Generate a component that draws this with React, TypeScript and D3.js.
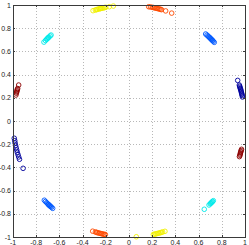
import { useEffect, useRef } from 'react';
import * as d3 from 'd3';

type Pt = [number, number];

// clusters of points (x, y)
const yellowTop: Pt[] = [
  [-0.31, 0.951], [-0.29, 0.957], [-0.28, 0.96], [-0.27, 0.963], [-0.26, 0.966], [-0.25, 0.968],
  [-0.245, 0.97], [-0.24, 0.971], [-0.23, 0.973], [-0.22, 0.975], [-0.21, 0.978], [-0.2, 0.98],
  [-0.17, 0.985], [-0.135, 0.991],
];
const orangeTop: Pt[] = [
  [0.17, 0.985], [0.185, 0.983], [0.2, 0.98], [0.21, 0.978], [0.22, 0.976], [0.23, 0.973],
  [0.24, 0.971], [0.25, 0.968], [0.26, 0.966], [0.27, 0.963], [0.28, 0.96], [0.316, 0.949], [0.368, 0.93],
];
const blueTop: Pt[] = [
  [0.661, 0.75], [0.672, 0.741], [0.68, 0.733], [0.688, 0.726], [0.695, 0.719], [0.7, 0.714],
  [0.705, 0.709], [0.71, 0.704], [0.715, 0.699], [0.72, 0.694], [0.727, 0.687], [0.735, 0.678],
];
const navyRight: Pt[] = [
  [0.937, 0.35], [0.951, 0.31], [0.954, 0.3], [0.957, 0.29], [0.96, 0.28], [0.963, 0.27],
  [0.966, 0.26], [0.968, 0.25], [0.971, 0.24], [0.973, 0.23], [0.976, 0.22], [0.978, 0.207],
];
const redRight: Pt[] = [
  [0.97, -0.244], [0.967, -0.255], [0.964, -0.265], [0.961, -0.275], [0.959, -0.285], [0.956, -0.295], [0.952, -0.307],
];
const cyanBottom: Pt[] = [
  [0.649, -0.761], [0.69, -0.724], [0.7, -0.714], [0.705, -0.709], [0.71, -0.704], [0.715, -0.699],
  [0.72, -0.694], [0.727, -0.687],
];
const yellowBottom: Pt[] = [
  [0.063, -0.998], [0.21, -0.978], [0.22, -0.976], [0.23, -0.973], [0.24, -0.971], [0.25, -0.968],
  [0.26, -0.966], [0.27, -0.963], [0.28, -0.96], [0.29, -0.957], [0.31, -0.951],
];
const orangeBottom: Pt[] = [
  [-0.313, -0.95], [-0.29, -0.957], [-0.28, -0.96], [-0.27, -0.963], [-0.26, -0.966], [-0.25, -0.968],
  [-0.24, -0.971], [-0.23, -0.973], [-0.22, -0.976], [-0.21, -0.978], [-0.204, -0.979],
];
const blueBottom: Pt[] = [
  [-0.73, -0.683], [-0.72, -0.694], [-0.71, -0.704], [-0.7, -0.714], [-0.695, -0.719], [-0.69, -0.724],
  [-0.685, -0.729], [-0.68, -0.733], [-0.675, -0.738], [-0.668, -0.744], [-0.658, -0.753],
];
const navyLeft: Pt[] = [
  [-0.989, -0.149], [-0.985, -0.17], [-0.982, -0.19], [-0.978, -0.21], [-0.973, -0.23], [-0.968, -0.25],
  [-0.963, -0.27], [-0.957, -0.29], [-0.951, -0.31], [-0.944, -0.33], [-0.913, -0.408],
];
const cyanTop: Pt[] = [
  [-0.733, 0.68], [-0.72, 0.694], [-0.71, 0.704], [-0.705, 0.709], [-0.7, 0.714], [-0.695, 0.719],
  [-0.69, 0.724], [-0.68, 0.733], [-0.672, 0.741],
];
const redLeft: Pt[] = [
  [-0.975, 0.224], [-0.971, 0.24], [-0.968, 0.25], [-0.966, 0.26], [-0.963, 0.27], [-0.96, 0.28], [-0.951, 0.31],
];

const clusters: { pts: Pt[]; color: string }[] = [
  { pts: yellowTop, color: '#f0f000' },
  { pts: orangeTop, color: '#ff4a00' },
  { pts: blueTop, color: '#0058ff' },
  { pts: navyRight, color: '#00009c' },
  { pts: redRight, color: '#8c0000' },
  { pts: cyanBottom, color: '#00eaea' },
  { pts: yellowBottom, color: '#f0f000' },
  { pts: orangeBottom, color: '#ff4a00' },
  { pts: blueBottom, color: '#0058ff' },
  { pts: navyLeft, color: '#00009c' },
  { pts: cyanTop, color: '#00eaea' },
  { pts: redLeft, color: '#8c0000' },
];

const ticks = [-1, -0.8, -0.6, -0.4, -0.2, 0, 0.2, 0.4, 0.6, 0.8, 1];

export default function App() {
  const ref = useRef<SVGSVGElement>(null);

  useEffect(() => {
    const svg = d3.select(ref.current);
    svg.selectAll('*').remove();

    const x = d3.scaleLinear().domain([-1, 1]).range([13, 245]);
    const y = d3.scaleLinear().domain([-1, 1]).range([237, 5]);
    const fmt = (d: number) => String(+d.toFixed(1));

    // grid
    const grid = svg.append('g').attr('stroke', '#b8b8b8').attr('stroke-width', 1).attr('stroke-dasharray', '1,2');
    grid.selectAll('.gx').data(ticks.slice(1, -1)).enter().append('line')
      .attr('x1', d => Math.round(x(d)) + 0.5).attr('x2', d => Math.round(x(d)) + 0.5)
      .attr('y1', y(1)).attr('y2', y(-1));
    grid.selectAll('.gy').data(ticks.slice(1, -1)).enter().append('line')
      .attr('y1', d => Math.round(y(d)) + 0.5).attr('y2', d => Math.round(y(d)) + 0.5)
      .attr('x1', x(-1)).attr('x2', x(1));

    // points
    clusters.forEach(c => {
      svg.append('g').selectAll('circle').data(c.pts).enter().append('circle')
        .attr('cx', d => x(d[0])).attr('cy', d => y(d[1]))
        .attr('r', 2.3).attr('fill', 'none').attr('stroke', c.color).attr('stroke-width', 0.9);
    });

    // box and ticks
    const ax = svg.append('g').attr('stroke', '#3a3a3a').attr('stroke-width', 1);
    ax.append('rect')
      .attr('x', x(-1) + 0.5).attr('y', y(1) + 0.5)
      .attr('width', x(1) - x(-1)).attr('height', y(-1) - y(1))
      .attr('fill', 'none');
    ticks.forEach(t => {
      const px = Math.round(x(t)) + 0.5;
      const py = Math.round(y(t)) + 0.5;
      ax.append('line').attr('x1', px).attr('x2', px).attr('y1', y(-1)).attr('y2', y(-1) - 2);
      ax.append('line').attr('x1', px).attr('x2', px).attr('y1', y(1)).attr('y2', y(1) + 2);
      ax.append('line').attr('y1', py).attr('y2', py).attr('x1', x(-1)).attr('x2', x(-1) + 2);
      ax.append('line').attr('y1', py).attr('y2', py).attr('x1', x(1)).attr('x2', x(1) - 2);
    });

    // labels
    const lab = svg.append('g').attr('font-family', 'Liberation Sans, Arial, sans-serif')
      .attr('font-size', 7).attr('fill', '#222');
    lab.selectAll('.yl').data(ticks).enter().append('text')
      .attr('x', 11).attr('y', d => y(d)).attr('text-anchor', 'end')
      .attr('dominant-baseline', 'central').text(fmt);
    lab.selectAll('.xl').data(ticks).enter().append('text')
      .attr('x', d => x(d)).attr('y', 242.5).attr('text-anchor', 'middle')
      .attr('dominant-baseline', 'central').text(fmt);
  }, []);

  return (
    <svg ref={ref} width={249} height={245}
      style={{ position: 'absolute', left: 0, top: 0, background: '#fff' }} />
  );
}
